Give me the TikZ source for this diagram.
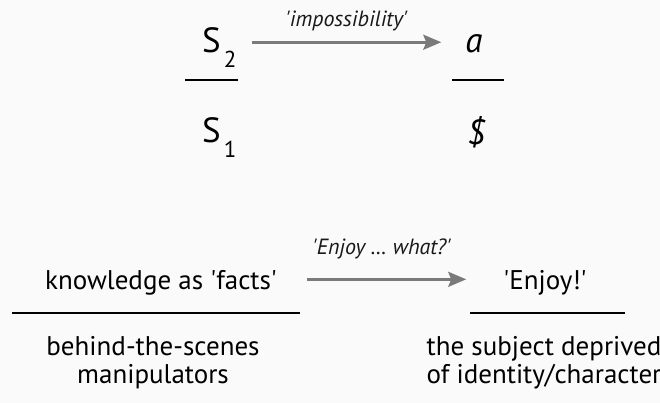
\documentclass[tikz,border=0pt]{standalone}
\usepackage{fontspec}
\setmainfont{PT Sans}[Ligatures=TeXOff]
\usetikzlibrary{arrows.meta,positioning}
\definecolor{lcback}{HTML}{FAFAFA}
\definecolor{lcgray}{HTML}{7A7A7A}
\newcommand{\lowsub}[1]{\kern3pt\raisebox{-15pt}{\fontsize{23}{23}\selectfont #1}}
\tikzset{
    matheme/.style={inner sep=0pt, font=\fontsize{35}{40}\selectfont},
    gloss/.style={inner sep=0pt, align=center, font=\fontsize{27}{28}\selectfont},
    flow/.style={-{Stealth[length=18pt, width=15pt, inset=3pt]},
        line width=2.6pt, color=lcgray},
    flowlabel/.style={inner sep=0pt, text=black!90,
        font=\itshape\fontsize{22}{24}\selectfont},
    fracbar/.style={line width=2pt, color=black},
}

\begin{document}
\begin{tikzpicture}[x=1pt, y=-1pt]

    % -- frame --
    \fill[lcback] (0,0) rectangle (660,403);
    \useasboundingbox (0,0) rectangle (660,403);
    \clip (0,0) rectangle (660,403);

    % -- mathemes --
    \node[matheme, anchor=base west] (stwo) at (202,53) {S\lowsub{2}};
    \node[matheme, anchor=base west] (sone) at (202,143) {S\lowsub{1}};
    \node[matheme, anchor=base] (objet) at (474,53) {\itshape a};
    \node[matheme, anchor=base] (barred) at (476,145) {\itshape\$};
    \coordinate (tl1) at (185,80);
    \coordinate (tl2) at (238,80);
    \coordinate (tr1) at (452,80);
    \coordinate (tr2) at (504,80);

    % -- glosses --
    \node[gloss, anchor=base] (facts) at (161,289) {knowledge as 'facts'};
    \node[gloss, anchor=base] (enjoy) at (545,289) {'Enjoy!'};
    \coordinate (bl1) at (12,313);
    \coordinate (bl2) at (300,313);
    \coordinate (br1) at (470,313);
    \coordinate (br2) at (625,313);
    \node[gloss, anchor=north] (hidden) at (153,336)
        {behind-the-scenes\\manipulators};
    \node[gloss, anchor=north] (deprived) at (544,336)
        {the subject deprived\\of identity/character};

    % -- bars --
    \draw[fracbar] (tl1) -- (tl2);
    \draw[fracbar] (tr1) -- (tr2);
    \draw[fracbar] (bl1) -- (bl2);
    \draw[fracbar] (br1) -- (br2);

    % -- arrows --
    \draw[flow] ([xshift=15pt,yshift=2pt]stwo.east |- objet.center)
        -- node[flowlabel, midway, above=10pt] {'impossibility'}
        ([xshift=-24pt,yshift=2pt]objet.west);
    \draw[flow] ([xshift=30pt,yshift=3pt]facts.east)
        -- node[flowlabel, midway, above=19pt, xshift=-5pt] {'Enjoy … what?'}
        ([xshift=-37pt,yshift=3pt]facts.east -| enjoy.west);

\end{tikzpicture}
\end{document}
